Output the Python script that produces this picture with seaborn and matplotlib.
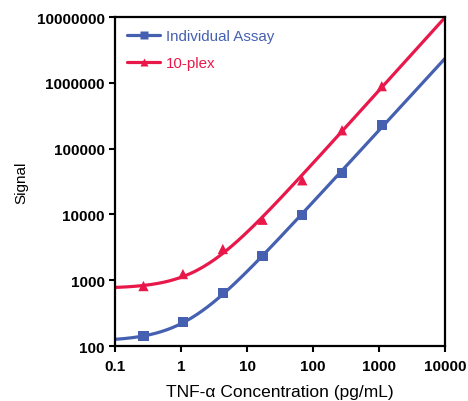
import numpy as np
import pandas as pd
import matplotlib
matplotlib.use("Agg")
import matplotlib.pyplot as plt
import seaborn as sns
from matplotlib.lines import Line2D

# Data
concentration = [0.27, 1.07, 4.3, 17.2, 68.75, 275, 1100]
individual_signal = [141, 232, 640, 2340, 9800, 42500, 228000]
tenplex_signal = [815, 1240, 2980, 8300, 33000, 190000, 890000]
series_names = ["Individual Assay", "10-plex"]
x_ticks = [0.1, 1, 10, 100, 1000, 10000]
x_tick_labels = ["0.1", "1", "10", "100", "1000", "10000"]
y_ticks = [100, 1000, 10000, 100000, 1000000, 10000000]
y_tick_labels = ["100", "1000", "10000", "100000", "1000000", "10000000"]

colors = {"Individual Assay": "#4560B0", "10-plex": "#E8194A"}
markers = {"Individual Assay": "s", "10-plex": "^"}


def fit_curve(x, y):
    """Fit y = bg + k * x**n (least squares in log space, grid over bg)."""
    x = np.asarray(x, float)
    y = np.asarray(y, float)
    best = None
    for bg in np.linspace(0, 0.99 * y.min(), 400):
        lx = np.log10(x)
        ly = np.log10(y - bg)
        n, lk = np.polyfit(lx, ly, 1)
        pred = np.log10(bg + 10 ** lk * x ** n)
        err = np.sum((pred - np.log10(y)) ** 2)
        if best is None or err < best[0]:
            best = (err, bg, 10 ** lk, n)
    _, bg, k, n = best
    return lambda xx: bg + k * np.asarray(xx) ** n


sns.set_theme(style="white")
plt.rcParams["font.family"] = ["Liberation Sans", "DejaVu Sans"]

fig = plt.figure(figsize=(4.68, 4.02), dpi=100)
ax = fig.add_axes([0.2457, 0.1368, 0.7052, 0.8184])

points = pd.DataFrame({
    "conc": concentration * 2,
    "signal": individual_signal + tenplex_signal,
    "series": [series_names[0]] * len(concentration) + [series_names[1]] * len(concentration),
})

xx = np.logspace(-1, 4, 300)
curves = []
for name, sig in zip(series_names, [individual_signal, tenplex_signal]):
    f = fit_curve(concentration, sig)
    curves.append(pd.DataFrame({"conc": xx, "signal": f(xx), "series": name}))
curves = pd.concat(curves, ignore_index=True)

sns.lineplot(data=curves, x="conc", y="signal", hue="series", palette=colors,
             linewidth=2.3, ax=ax, legend=False, zorder=2)
sns.scatterplot(data=points, x="conc", y="signal", hue="series", style="series",
                palette=colors, markers=markers, s=55, edgecolor="none",
                ax=ax, legend=False, zorder=3)

ax.set_xscale("log")
ax.set_yscale("log")
ax.set_xlim(0.1, 10000)
ax.set_ylim(100, 10000000)
ax.set_xticks(x_ticks)
ax.set_xticklabels(x_tick_labels)
ax.set_yticks(y_ticks)
ax.set_yticklabels(y_tick_labels)
ax.minorticks_off()
for lbl in ax.get_xticklabels() + ax.get_yticklabels():
    lbl.set_fontweight("bold")
    lbl.set_fontsize(11)
    lbl.set_color("black")
ax.tick_params(axis="both", which="major", direction="out", length=4.5,
               width=1.5, color="black", pad=3, bottom=True, left=True)
ax.tick_params(axis="x", pad=5)
for sp in ax.spines.values():
    sp.set_linewidth(1.6)
    sp.set_color("black")
ax.set_xlabel("TNF-\u03b1 Concentration (pg/mL)", fontsize=12.5, color="black", labelpad=8)
ax.set_ylabel("Signal", fontsize=11, color="black", labelpad=6)

handles = [Line2D([0], [0], color=colors[n], marker=markers[n], markersize=6,
                  linewidth=2.3, markeredgecolor="none") for n in series_names]
leg = ax.legend(handles, series_names, loc="upper left", frameon=False,
                fontsize=10.9, handlelength=2.2, handletextpad=0.35,
                labelspacing=0.85, borderaxespad=0.4, bbox_to_anchor=(0.0, 1.0))
for txt, n in zip(leg.get_texts(), series_names):
    txt.set_color(colors[n])

fig.savefig("out.png", dpi=100)
